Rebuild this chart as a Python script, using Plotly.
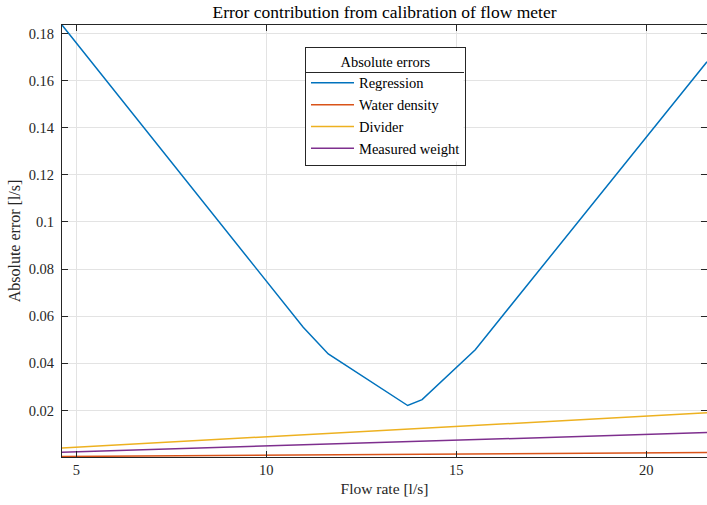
import plotly.graph_objects as go

flow_rate = [4.62, 10.97, 11.63, 13.72, 14.10, 15.50, 21.60]
regression = [0.1836, 0.0553, 0.0440, 0.0221, 0.0246, 0.0458, 0.1680]
water_density = [0.00046, 0.00110, 0.00116, 0.00137, 0.00141, 0.00155, 0.00216]
divider = [0.0041, 0.0097, 0.0102, 0.0121, 0.0124, 0.0136, 0.0190]
measured_weight = [0.0023, 0.0054, 0.0057, 0.0067, 0.0069, 0.0076, 0.0106]

series_names = ["Regression", "Water density", "Divider", "Measured weight"]
series_values = [regression, water_density, divider, measured_weight]
colors = ["#0072BD", "#D95319", "#EDB120", "#7E2F8E"]

x_ticks = [5, 10, 15, 20]
y_ticks = [0.02, 0.04, 0.06, 0.08, 0.10, 0.12, 0.14, 0.16, 0.18]
y_tick_text = ["0.02", "0.04", "0.06", "0.08", "0.1", "0.12", "0.14", "0.16", "0.18"]

FONT = "Liberation Serif"
AX = "#262626"

# plot area in pixels (for paper-coordinate placement of legend pieces)
PL, PR, PT, PB = 62, 707, 25, 457
PW, PH = PR - PL, PB - PT


def px_x(p):
    return (p - PL) / PW


def px_y(p):
    return (PB - p) / PH


fig = go.Figure()
for name, vals, c in zip(series_names, series_values, colors):
    fig.add_trace(go.Scatter(x=flow_rate, y=vals, mode="lines", name=name,
                             line=dict(color=c, width=1.5)))

axis_common = dict(
    showline=True, linecolor=AX, linewidth=1, mirror="ticks",
    ticks="inside", ticklen=6, tickcolor=AX, tickwidth=1,
    showgrid=True, gridcolor="#e3e3e3", gridwidth=1,
    zeroline=False, tickfont=dict(family=FONT, size=14.5, color=AX),
)

leg_left, leg_top, leg_right, leg_bottom = 305, 47, 464, 162
fig.update_layout(
    width=707, height=505,
    margin=dict(l=PL, r=707 - PR, t=PT, b=505 - PB),
    paper_bgcolor="white", plot_bgcolor="white",
    font=dict(family=FONT, size=14, color=AX),
    title=dict(text="Error contribution from calibration of flow meter",
               x=(PL + PR) / 2 / 707, xanchor="center",
               y=1 - 12 / 505, yanchor="middle",
               font=dict(family=FONT, size=17.5, color="black")),
    xaxis=dict(range=[4.62, 21.6], tickvals=x_ticks,
               title=dict(text="Flow rate [l/s]", standoff=5,
                          font=dict(family=FONT, size=15.5, color=AX)),
               **axis_common),
    yaxis=dict(range=[0.00025, 0.1836], tickvals=y_ticks, ticktext=y_tick_text,
               ticklabelstandoff=4,
               title=dict(text="Absolute error [l/s]", standoff=4,
                          font=dict(family=FONT, size=16, color=AX)),
               **axis_common),
    legend=dict(x=px_x(leg_left), y=px_y(leg_top),
                xanchor="left", yanchor="top",
                bgcolor="rgba(0,0,0,0)", bordercolor=AX, borderwidth=1,
                font=dict(family=FONT, size=14.5, color="black"),
                title=dict(text="Absolute errors", side="top center",
                           font=dict(family=FONT, size=14.5, color="black")),
                itemwidth=43, tracegroupgap=0),
    showlegend=True,
)

# white backing for the legend box, drawn above the traces
fig.add_shape(type="rect", xref="paper", yref="paper",
              x0=px_x(leg_left + 0.5), x1=px_x(leg_right - 0.5),
              y0=px_y(leg_top + 0.5), y1=px_y(leg_bottom - 0.5),
              fillcolor="white", line=dict(width=0), layer="above")
# separator line under the legend title
sep_y = 72.5
fig.add_shape(type="line", xref="paper", yref="paper",
              x0=px_x(leg_left), x1=px_x(leg_right),
              y0=px_y(sep_y), y1=px_y(sep_y),
              line=dict(color=AX, width=1), layer="above")

fig.write_html("out.html")
